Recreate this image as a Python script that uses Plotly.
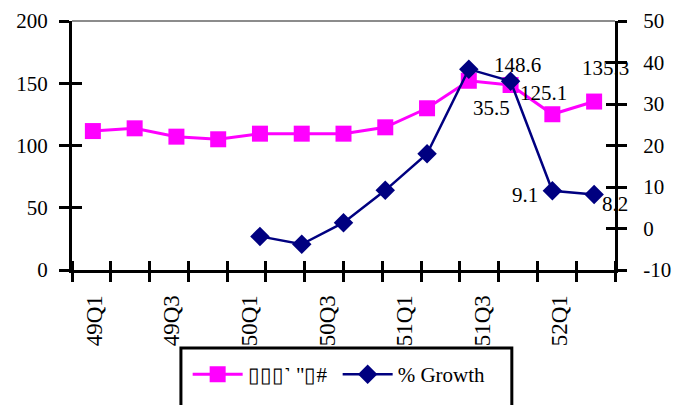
import plotly.graph_objects as go

quarters = ["49Q1", "49Q2", "49Q3", "49Q4", "50Q1", "50Q2", "50Q3", "50Q4",
            "51Q1", "51Q2", "51Q3", "51Q4", "52Q1"]
index_values = [111.6, 113.8, 107.1, 105.0, 109.5, 109.5, 109.5, 114.6,
                129.9, 152.0, 148.6, 125.1, 135.3]
growth_values = [None, None, None, None, -1.9, -3.8, 1.4, 9.2,
                 18.0, 38.4, 35.5, 9.1, 8.2]
left_ticks = [0, 50, 100, 150, 200]
right_ticks = [-10, 0, 10, 20, 30, 40, 50]
index_name = '\u25af\u25af\u25af\u02fa "\u25af#'
growth_name = "% Growth"

FONT = "Liberation Serif, Times New Roman, serif"
PINK = "#FF00FF"
NAVY = "#000080"

n = len(quarters)
xs = list(range(n))
xr = [-0.5, n - 0.5]
# Excel-style category grid of 14 slots across the plot area
slots = n + 1
bounds = [xr[0] + k * n / slots for k in range(slots + 1)]
label_pos = [xr[0] + (k + 0.5) * n / slots for k in range(0, n, 2)]
label_txt = [quarters[k] for k in range(0, n, 2)]

fig = go.Figure()
fig.add_trace(go.Scatter(
    x=xs, y=index_values, name=index_name, mode="lines+markers",
    line=dict(color=PINK, width=3),
    marker=dict(symbol="square", size=16, color=PINK),
    yaxis="y", xaxis="x"))
fig.add_trace(go.Scatter(
    x=xs, y=growth_values, name=growth_name, mode="lines+markers",
    line=dict(color=NAVY, width=2.5),
    marker=dict(symbol="diamond", size=15, color=NAVY),
    yaxis="y2", xaxis="x", connectgaps=False))
# helper traces so the overlay axes (inside halves of crossing ticks) render
for xa, ya in [("x2", "y3"), ("x2", "y4")]:
    fig.add_trace(go.Scatter(x=[None], y=[None], xaxis=xa, yaxis=ya,
                             showlegend=False, hoverinfo="skip"))

tickfont = dict(family=FONT, size=21, color="black")

fig.update_layout(
    width=673, height=397,
    margin=dict(l=64, r=66, t=13, b=135, autoexpand=False),
    paper_bgcolor="white", plot_bgcolor="white",
    font=dict(family=FONT, size=21, color="black"),
    showlegend=True,
    legend=dict(orientation="h", x=0.213, y=-0.42, xanchor="left",
                yanchor="middle", font=dict(family=FONT, size=21),
                bgcolor="rgba(0,0,0,0)", entrywidth=85,
                entrywidthmode="pixels", itemwidth=50),
    xaxis=dict(range=xr, showgrid=False, zeroline=False, automargin=False,
               showline=True, linecolor="black", linewidth=3,
               tickmode="array", tickvals=label_pos, ticktext=label_txt,
               ticks="", tickangle=-90,
               tickfont=dict(family=FONT, size=23, color="black"),
               ticklabelstandoff=13, ticklabelshift=3,
               minor=dict(tickmode="array", tickvals=bounds, ticks="outside",
                          ticklen=9, tickwidth=3, tickcolor="black",
                          showgrid=False)),
    xaxis2=dict(range=xr, overlaying="x", showgrid=False, zeroline=False,
                showline=False, showticklabels=False, ticks="",
                automargin=False,
                minor=dict(tickmode="array", tickvals=bounds, ticks="inside",
                           ticklen=9, tickwidth=3, tickcolor="black",
                           showgrid=False)),
    yaxis=dict(range=[0, 200], tickvals=left_ticks,
               ticktext=[str(v) for v in left_ticks], showgrid=False,
               zeroline=False, showline=True, linecolor="black", linewidth=3,
               ticks="outside", ticklen=10, tickwidth=3, tickcolor="black",
               tickfont=tickfont, ticklabelstandoff=7, automargin=False),
    yaxis2=dict(range=[-10, 50], tickvals=right_ticks,
                ticktext=[str(v) for v in right_ticks], overlaying="y",
                side="right", showgrid=False, zeroline=False, showline=True,
                linecolor="black", linewidth=3, ticks="outside", ticklen=9,
                tickwidth=3, tickcolor="black", tickfont=tickfont,
                ticklabelstandoff=12, automargin=False),
    yaxis3=dict(range=[0, 200], tickvals=left_ticks, overlaying="y",
                side="left", showgrid=False, zeroline=False, showline=False,
                ticks="inside", ticklen=10, tickwidth=3, tickcolor="black",
                showticklabels=False, automargin=False),
    yaxis4=dict(range=[-10, 50], tickvals=right_ticks, overlaying="y",
                side="right", showgrid=False, zeroline=False, showline=False,
                ticks="inside", ticklen=9, tickwidth=3, tickcolor="black",
                showticklabels=False, automargin=False),
)

# top border of plot area (grey)
fig.add_shape(type="line", xref="x domain", yref="y domain",
              x0=0, x1=1, y0=1, y1=1, line=dict(color="#8c8c8c", width=2))
# legend frame (extends beyond bottom of the page)
fig.add_shape(type="rect", xref="paper", yref="paper",
              x0=0.2006, x1=0.810, y0=-0.313, y1=-0.75,
              line=dict(color="black", width=3), fillcolor="rgba(0,0,0,0)")

# data labels on the last three points
label_specs = [
    ("y", index_values, 10, 7, 20),
    ("y", index_values, 11, -9, 21),
    ("y", index_values, 12, 11, 34),
    ("y2", growth_values, 10, -19, -27),
    ("y2", growth_values, 11, -27, -4),
    ("y2", growth_values, 12, 21, -10),
]
for yref, vals, i, dx, dy in label_specs:
    fig.add_annotation(x=xs[i], y=vals[i], xref="x", yref=yref,
                       text=f"{vals[i]:.1f}", showarrow=False,
                       xshift=dx, yshift=dy,
                       font=dict(family=FONT, size=21, color="black"))

fig.write_html("out.html")
